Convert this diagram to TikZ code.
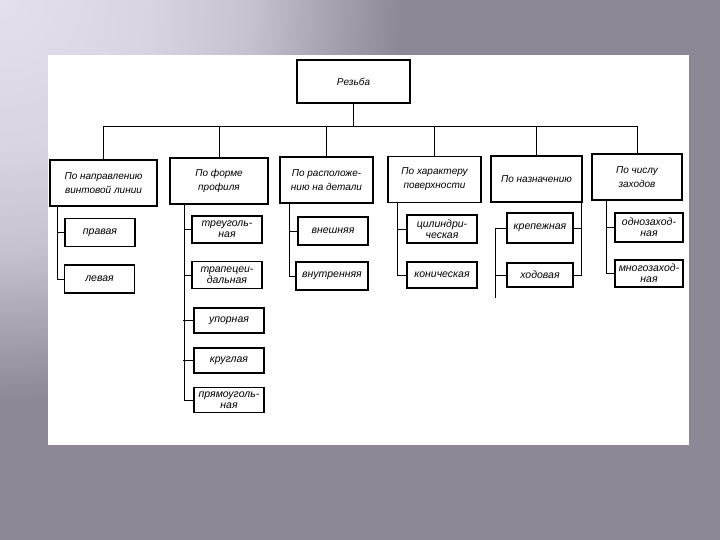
\documentclass[tikz,border=0pt]{standalone}
\usepackage{fontspec}
\setmainfont{Liberation Sans}
\definecolor{slidebase}{HTML}{8E8795}
\definecolor{glowa}{HTML}{E6E0EE}
\definecolor{glowb}{HTML}{DAD4E2}
\definecolor{glowc}{HTML}{C8C1CF}
\definecolor{glowd}{HTML}{ACA5B4}
\pgfdeclareradialshading{slideglow}{\pgfpoint{0bp}{0bp}}{color(0bp)=(glowa); color(150bp)=(glowb); color(250bp)=(glowc); color(320bp)=(glowd); color(400bp)=(slidebase); color(410bp)=(slidebase)}
\begin{document}
\begin{tikzpicture}[x=1pt,y=-1pt,line width=0.9pt,
        cat/.style={draw, line width=1.5pt, minimum height=46pt, inner sep=1pt, align=center, font=\itshape\fontsize{10}{14}\selectfont},
        leaf/.style={draw, line width=1.5pt, minimum width=70pt, minimum height=27pt, inner sep=1pt, align=center, font=\itshape\fontsize{10.5}{11}\selectfont}]
        \useasboundingbox (0,0) rectangle (720,540);
        \fill[slidebase] (0,0) rectangle (720,540);
        \begin{scope}
            \clip (0,0) rectangle (720,540);
            \pgftext[at=\pgfpoint{0pt}{0pt}]{\pgfuseshading{slideglow}}
        \end{scope}
        \fill[white] (48,55) rectangle (689,445);
        \node (rezba) [draw, line width=1.5pt, minimum width=113pt, minimum height=43pt, font=\itshape\fontsize{10}{12}\selectfont] at (353.5,81.5) {Резьба};
        \node (napr) [cat, minimum width=107pt] at (103.5,183) {По направлению\\винтовой линии};
        \node (forma) [cat, minimum width=98pt] at (219,181) {По форме\\профиля};
        \node (raspol) [cat, minimum width=93pt] at (326.5,180) {По расположе-\\нию на детали};
        \node (harakt) [cat, minimum width=93pt] at (434.5,179.5) {По характеру\\поверхности};
        \node (nazn) [cat, minimum width=91pt] at (536.5,179) {По назначению};
        \node (chislo) [cat, minimum width=90pt] at (637,177) {По числу\\заходов};
        \node (pravaya) [leaf, minimum height=28pt] at (100,232.5) {правая};
        \node (levaya) [leaf, minimum height=28pt] at (99.5,279) {левая};
        \node (treug) [leaf] at (227,229.5) {треуголь-\\ная};
        \node (trapec) [leaf] at (227,275) {трапецеи-\\дальная};
        \node (upor) [leaf, minimum height=25pt] at (229,320.5) {упорная};
        \node (krugl) [leaf, minimum height=25pt] at (229,360.5) {круглая};
        \node (pryam) [leaf, minimum height=25pt] at (229,400) {прямоуголь-\\ная};
        \node (vnesh) [leaf, minimum height=28pt] at (333,231) {внешняя};
        \node (vnutr) [leaf, minimum width=72pt, minimum height=28pt] at (332,276) {внутренняя};
        \node (cilindr) [leaf, minimum height=28pt] at (442,229) {цилиндри-\\ческая};
        \node (konich) [leaf, minimum height=26pt] at (442,275) {коническая};
        \node (krep) [leaf, minimum width=66pt, minimum height=30pt] at (540,228) {крепежная};
        \node (hodov) [leaf, minimum width=66pt, minimum height=24pt] at (540,275) {ходовая};
        \node (odnozah) [leaf, minimum width=68pt, minimum height=29pt] at (649,227.5) {однозаход-\\ная};
        \node (mnogozah) [leaf, minimum width=68pt] at (649,273.5) {многозаход-\\ная};
        \coordinate (bus) at (0,126);
        \coordinate (hodtail) at (495,298);
        \draw (rezba.south) -- (rezba.south |- bus);
        \draw (napr.north |- bus) -- (chislo.north |- bus);
        \draw (napr.north) -- (napr.north |- bus);
        \draw (forma.north) -- (forma.north |- bus);
        \draw (raspol.north) -- (raspol.north |- bus);
        \draw (harakt.north) -- (harakt.north |- bus);
        \draw (nazn.north) -- (nazn.north |- bus);
        \draw (chislo.north) -- (chislo.north |- bus);
        \draw ([xshift=-7pt]pravaya.west |- napr.south) |- (levaya.west);
        \draw ([xshift=-7pt]pravaya.west) -- (pravaya.west);
        \draw ([xshift=-7pt]treug.west |- forma.south) |- (pryam.west);
        \draw ([xshift=-7pt]treug.west) -- (treug.west);
        \draw ([xshift=-7pt]trapec.west) -- (trapec.west);
        \draw ([xshift=-10pt]upor.west) -- (upor.west);
        \draw ([xshift=-10pt]krugl.west) -- (krugl.west);
        \draw ([xshift=-8pt]vnesh.west |- raspol.south) |- (vnutr.west);
        \draw ([xshift=-8pt]vnesh.west) -- (vnesh.west);
        \draw ([xshift=-9pt]cilindr.west |- harakt.south) |- (konich.west);
        \draw ([xshift=-9pt]cilindr.west) -- (cilindr.west);
        \draw ([xshift=8pt]krep.east |- nazn.south) |- (hodov.east);
        \draw ([xshift=8pt]krep.east) -- (krep.east);
        \draw (krep.west) -| (hodtail);
        \draw (hodov.west) -- (hodov.west -| hodtail);
        \draw ([xshift=-8pt]odnozah.west |- chislo.south) |- (mnogozah.west);
        \draw ([xshift=-8pt]odnozah.west) -- (odnozah.west);
    \end{tikzpicture}
\end{document}
